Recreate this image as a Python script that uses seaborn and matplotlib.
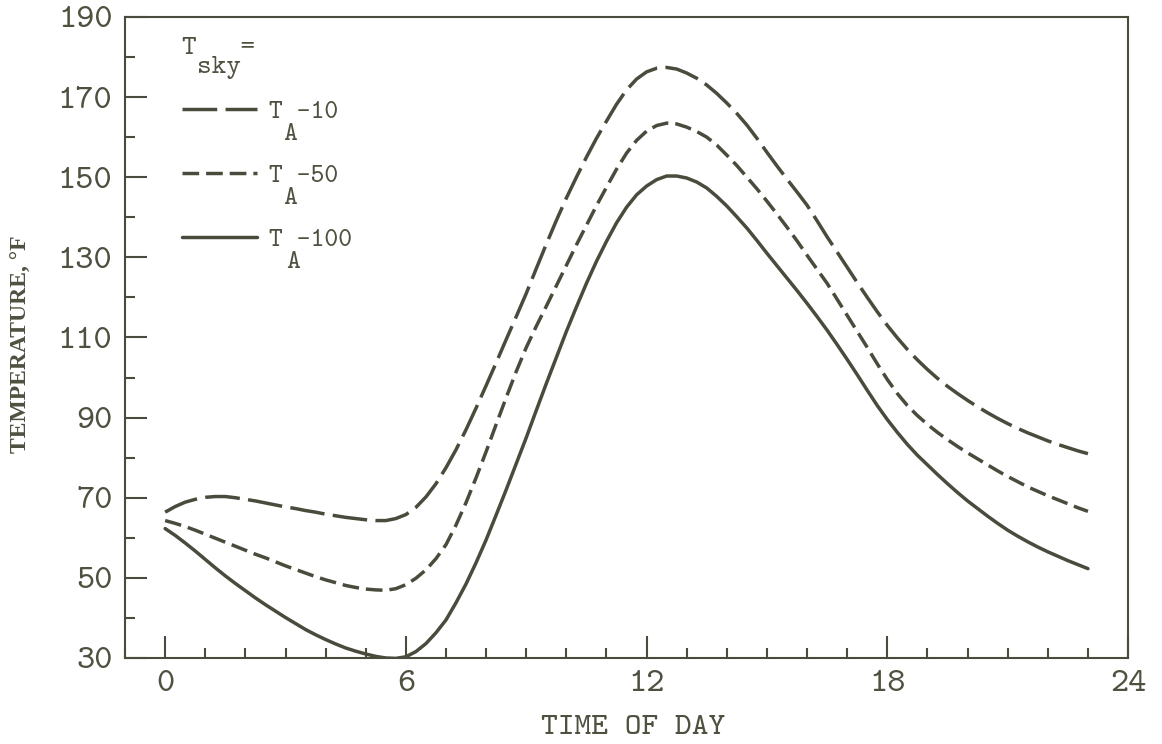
import numpy as np
import pandas as pd
import matplotlib
matplotlib.use("Agg")
import matplotlib.pyplot as plt
import seaborn as sns

# Hour of day at which each temperature was read (quarter-hour steps)
hours = np.arange(0, 23.25, 0.25)

# Surface temperature (deg F) for three effective sky temperatures
sky_minus_10 = [
    66.4, 67.8, 68.9, 69.6,   70.1, 70.3, 70.3, 70.0,   69.6, 69.2, 68.7, 68.2,
    67.7, 67.3, 66.8, 66.4,   65.9, 65.5, 65.1, 64.8,   64.5, 64.3, 64.3, 64.8,
    65.8, 67.6, 70.2, 73.5,   77.5, 82.0, 87.0, 92.4,   98.0, 103.7, 109.5, 115.2,
    121.0, 127.2, 133.3, 139.2,   144.8, 150.0, 155.0, 159.7,   164.0, 168.2, 171.8, 174.5,
    176.3, 177.2, 177.4, 177.0,   176.0, 174.7, 173.0, 170.9,   168.5, 165.9, 163.0, 159.7,
    156.2, 152.8, 149.5, 146.3,   143.0, 139.1, 135.1, 131.3,   127.5, 123.7, 120.0, 116.4,
    113.0, 109.9, 107.0, 104.4,   102.0, 99.8, 97.8, 96.0,   94.3, 92.7, 91.2, 89.8,
    88.5, 87.3, 86.2, 85.2,   84.2, 83.3, 82.5, 81.7,   81.0]
sky_minus_50 = [
    64.3, 63.6, 62.8, 61.9,   60.9, 59.9, 58.9, 57.9,   56.9, 55.9, 55.0, 54.0,
    53.0, 52.1, 51.2, 50.3,   49.5, 48.8, 48.1, 47.6,   47.2, 47.0, 46.9, 47.3,
    48.3, 49.9, 52.0, 54.8,   58.3, 63.2, 68.8, 75.0,   81.5, 88.3, 95.0, 101.5,
    107.5, 112.8, 117.8, 122.9,   128.0, 133.1, 138.0, 142.9,   147.5, 152.0, 156.0, 159.2,
    161.5, 162.9, 163.5, 163.3,   162.5, 161.4, 160.0, 158.0,   155.5, 152.9, 150.0, 147.1,
    144.0, 140.8, 137.5, 134.1,   130.5, 127.0, 123.5, 119.5,   115.5, 111.5, 107.5, 103.4,
    99.5, 96.0, 93.0, 90.5,   88.3, 86.3, 84.5, 82.8,   81.2, 79.7, 78.2, 76.7,
    75.3, 74.0, 72.7, 71.6,   70.5, 69.5, 68.5, 67.5,   66.6]
sky_minus_100 = [
    62.3, 60.6, 58.7, 56.7,   54.6, 52.5, 50.5, 48.6,   46.8, 45.0, 43.3, 41.7,
    40.1, 38.6, 37.1, 35.8,   34.6, 33.5, 32.5, 31.7,   31.0, 30.4, 30.0, 29.9,
    30.3, 31.6, 33.6, 36.3,   39.5, 43.8, 48.5, 53.8,   59.5, 65.7, 72.0, 78.5,
    85.0, 91.8, 98.5, 105.0,   111.5, 117.6, 123.5, 129.0,   134.0, 138.6, 142.5, 145.6,
    147.8, 149.4, 150.3, 150.3,   149.8, 148.8, 147.3, 145.2,   142.8, 140.1, 137.3, 134.2,
    131.0, 127.9, 124.8, 121.7,   118.5, 115.2, 111.8, 108.2,   104.5, 100.7, 96.8, 93.0,
    89.5, 86.3, 83.3, 80.6,   78.2, 75.8, 73.5, 71.3,   69.2, 67.3, 65.4, 63.6,
    61.9, 60.4, 59.0, 57.7,   56.5, 55.4, 54.3, 53.3,   52.3]

series_names = ["TA-10", "TA-50", "TA-100"]
# Legend strings: a blank column is left where the subscript goes
legend_labels = ["T -10", "T -50", "T -100"]
legend_subscript = "A"
legend_title = "T   ="
title_subscript = "sky"

x_major = [0, 6, 12, 18, 24]
x_minor = list(range(-1, 25))
y_major = [30, 50, 70, 90, 110, 130, 150, 170, 190]
y_minor = [40, 60, 80, 100, 120, 140, 160, 180]

ink = "#4a4b3c"
text_ink = "#4f503f"

sns.set_style("ticks")
plt.rcParams.update({
    "font.family": ["cmtt10", "DejaVu Sans Mono"],
    "axes.unicode_minus": False,
    "text.color": text_ink,
    "axes.labelcolor": text_ink,
    "xtick.color": ink,
    "ytick.color": ink,
    "xtick.labelcolor": text_ink,
    "ytick.labelcolor": text_ink,
    "axes.edgecolor": ink,
    "lines.linewidth": 2.5,
})

frames = []
for name, vals in zip(series_names, [sky_minus_10, sky_minus_50, sky_minus_100]):
    frames.append(pd.DataFrame({"hour": hours, "temp": vals, "sky": name}))
df = pd.concat(frames, ignore_index=True)

fig = plt.figure(figsize=(11.62, 7.44), dpi=100)
ax = fig.add_axes([0.1076, 0.1156, 0.8632, 0.8616])

dash_styles = {"TA-10": (10.0, 2.4), "TA-50": (4.8, 2.0), "TA-100": ""}
sns.lineplot(data=df, x="hour", y="temp", style="sky", style_order=series_names,
             dashes=dash_styles, color=ink, linewidth=2.5, ax=ax,
             estimator=None, sort=False)

handles, _ = ax.get_legend_handles_labels()
leg = ax.legend(handles, legend_labels, title=legend_title,
                loc="upper left", bbox_to_anchor=(0.057, 0.969),
                borderaxespad=0, borderpad=0,
                frameon=False, fontsize=19, title_fontsize=20,
                handlelength=2.85, handletextpad=0.45, labelspacing=1.5,
                alignment="left")
leg.set_zorder(5)
for t in leg.get_texts():
    t.set_color(text_ink)
    # lowered subscript "A" in the blank column after the T
    ax.annotate(legend_subscript, xy=(0.2, 0.0), xycoords=t,
                xytext=(0, 1), textcoords="offset points",
                ha="left", va="top", fontsize=19, color=text_ink, zorder=10)
leg.get_title().set_color(text_ink)
ax.annotate(title_subscript, xy=(0.2, 0.0), xycoords=leg.get_title(),
            xytext=(0, 3), textcoords="offset points",
            ha="left", va="top", fontsize=20, color=text_ink, zorder=10)

ax.set_xlim(-1, 24)
ax.set_ylim(30, 190)
ax.set_xticks(x_major)
ax.set_xticks(x_minor, minor=True)
ax.set_yticks(y_major)
ax.set_yticks(y_minor, minor=True)

ax.tick_params(which="both", direction="in", width=1.5,
               top=False, right=False, labelsize=25)
ax.tick_params(which="major", length=16, pad=9)
ax.tick_params(which="minor", length=7)
for side in ax.spines.values():
    side.set_linewidth(1.5)
    side.set_color(ink)

ax.set_xlabel("TIME OF DAY", fontsize=23)
ax.xaxis.set_label_coords(0.507, -0.089)
ax.set_ylabel("TEMPERATURE, °F", fontsize=17, fontfamily="Liberation Serif",
              fontweight="bold")
ax.yaxis.set_label_coords(-0.093, 0.49)

fig.savefig("out.png", dpi=100, facecolor="white")
